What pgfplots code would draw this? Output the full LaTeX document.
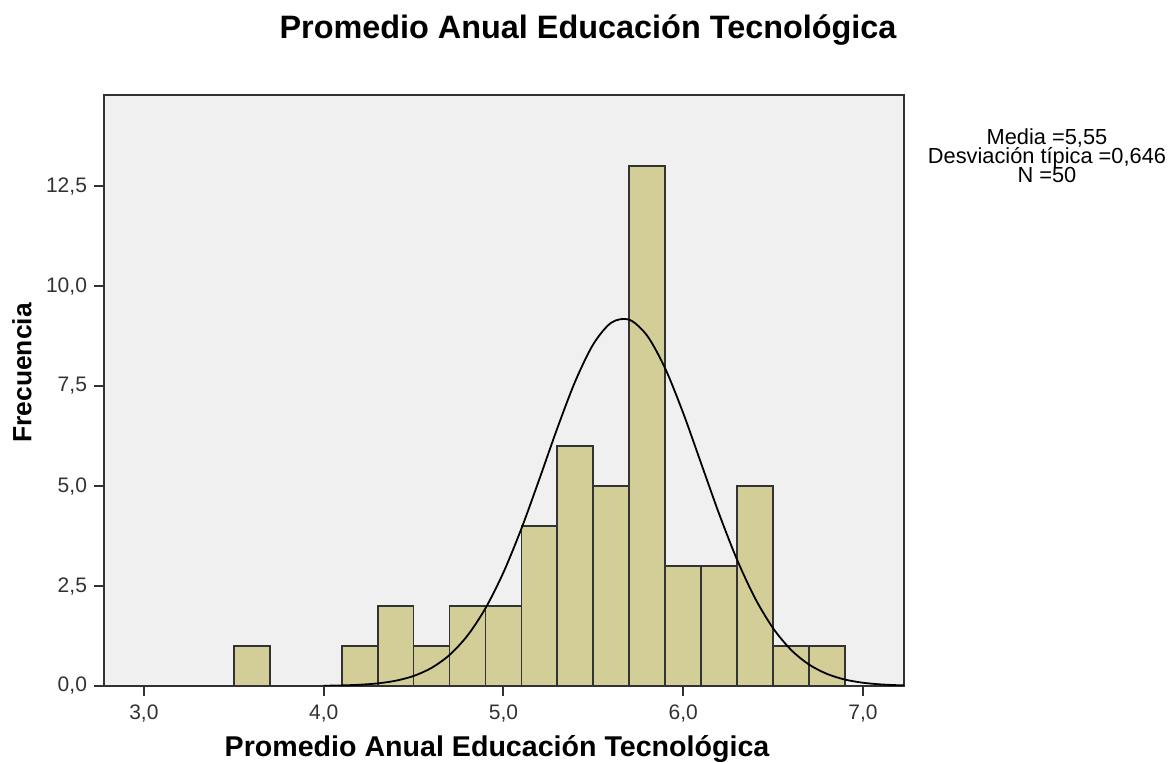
\documentclass[border=0pt]{standalone}
\usepackage{fontspec}
\setmainfont{Liberation Sans}
\usepackage{pgfplots}
\pgfplotsset{compat=1.18}
\definecolor{panel}{RGB}{240,240,240}
\definecolor{barfill}{RGB}{211,206,151}
\definecolor{axline}{RGB}{50,50,50}

\begin{document}
\begin{tikzpicture}
% canvas: 1 px of the reference = 0.5pt
\path (0,0) rectangle (584pt,381.5pt);
\begin{axis}[
    scale only axis,
    width=400pt, height=295.5pt,
    at={(52pt,38.5pt)}, anchor=south west,
    xmin=2.778, xmax=7.228, ymin=0, ymax=14.78,
    axis background/.style={fill=panel},
    axis line style={axline, line width=1pt},
    tick style={axline, line width=1pt},
    tick align=outside, major tick length=5pt,
    xtick pos=bottom, ytick pos=left,
    xtick={3,4,5,6,7},
    xticklabels={{3,0},{4,0},{5,0},{6,0},{7,0}},
    ytick={0,2.5,5,7.5,10,12.5},
    yticklabels={{0,0},{2,5},{5,0},{7,5},{10,0},{12,5}},
    ticklabel style={font=\fontsize{10.5}{12}\selectfont, text=axline},
    xticklabel style={yshift=-1pt},
    clip=true,
]
\addplot[ybar interval, fill=barfill, draw=black!80, line width=0.9pt]
    coordinates {(3.5,1) (3.7,1)};
\addplot[ybar interval, fill=barfill, draw=black!80, line width=0.9pt]
    coordinates {
    (4.1,1) (4.3,2) (4.5,1) (4.7,2) (4.9,2) (5.1,4) (5.3,6) (5.5,5)
    (5.7,13) (5.9,3) (6.1,3) (6.3,5) (6.5,1) (6.7,1) (6.9,1)};
\addplot[smooth, black, line width=0.9pt] coordinates {
    (4.0,0.006) (4.1,0.014) (4.2,0.031) (4.3,0.065) (4.4,0.131)
    (4.5,0.250) (4.6,0.453) (4.7,0.776) (4.8,1.261) (4.9,1.944)
    (5.0,2.841) (5.1,3.938) (5.2,5.177) (5.3,6.452) (5.4,7.627)
    (5.5,8.549) (5.6,9.087) (5.7,9.160) (5.8,8.756)
    (5.9,7.937) (6.0,6.823) (6.1,5.561) (6.2,4.299) (6.3,3.151)
    (6.4,2.190) (6.5,1.443) (6.6,0.902) (6.7,0.535) (6.8,0.301)
    (6.9,0.160) (7.0,0.081) (7.1,0.039) (7.2,0.018) (7.3,0.008)};
\end{axis}
\begin{scope}[every node/.style={inner sep=0pt}]
\node[font=\bfseries\fontsize{16.2}{18}\selectfont] at (294pt,366.5pt)
    {Promedio Anual Educación Tecnológica};
\node[font=\bfseries\fontsize{14.3}{16}\selectfont] at (248.5pt,7pt)
    {Promedio Anual Educación Tecnológica};
\node[font=\bfseries\fontsize{13.2}{15}\selectfont, rotate=90] at (11pt,195pt)
    {Frecuencia};
\node[align=center, font=\fontsize{10.9}{12}\selectfont] at (523.5pt,303.5pt)
    {Media =5,55\\[-2.4pt]Desviación típica =0,646\\[-2.4pt]N =50};
\end{scope}
\end{tikzpicture}
\end{document}
